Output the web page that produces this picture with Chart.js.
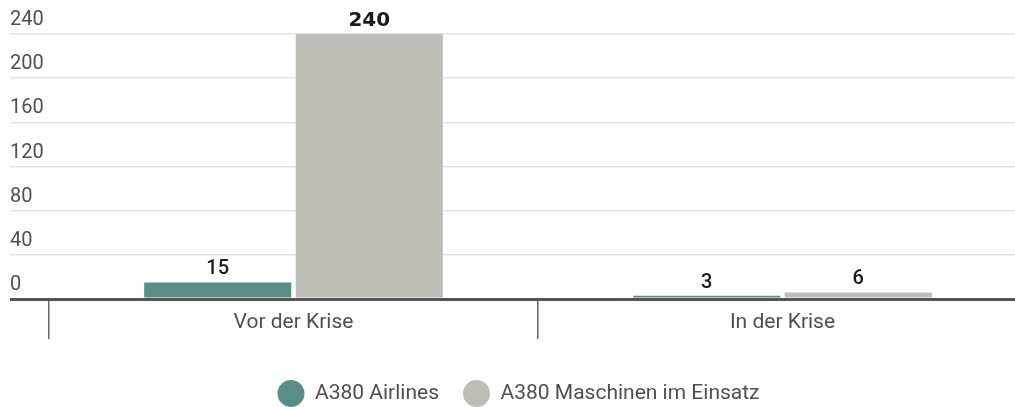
<!DOCTYPE html>
<html>
<head>
<meta charset="utf-8">
<script src="https://cdn.jsdelivr.net/npm/chart.js@4"></script>
<style>
    body { margin: 0; background: #fff; }
    #wrap { width: 1015px; height: 407px; overflow: hidden; }
    #wrap canvas { display: block; }
</style>
</head>
<body>
<div id="wrap"><canvas id="a380Chart" width="1032" height="407"></canvas></div>
<script>
// Data
const categories = ['Vor der Krise', 'In der Krise'];
const airlines = [15, 3];
const maschinen = [240, 6];
const seriesNames = ['A380 Airlines', 'A380 Maschinen im Einsatz'];
const yTicks = [0, 40, 80, 120, 160, 200, 240];

const teal = '#5c8d84';
const grey = '#bdbcb6';
const textGrey = '#4f4f4f';

// value labels over the bars
const valueLabels = {
    id: 'valueLabels',
    afterDatasetsDraw(chart) {
        const ctx = chart.ctx;
        ctx.save();
        ctx.fillStyle = '#1a1a1a';
        ctx.textAlign = 'center';
        ctx.textBaseline = 'alphabetic';
        chart.data.datasets.forEach((ds, i) => {
            const meta = chart.getDatasetMeta(i);
            meta.data.forEach((bar, j) => {
                const v = ds.data[j];
                // the big one is drawn wider in the original
                ctx.font = v >= 100 ? 'bold 20px "DejaVu Sans"' : '500 20px Roboto';
                ctx.fillText(String(v), bar.x, bar.y - 8);
            });
        });
        ctx.restore();
    }
};

new Chart(document.getElementById('a380Chart'), {
    type: 'bar',
    data: {
        labels: categories,
        datasets: [
            {
                label: seriesNames[0],
                data: airlines,
                backgroundColor: teal,
                borderWidth: 0,
                categoryPercentage: 0.62,
                barPercentage: 0.97
            },
            {
                label: seriesNames[1],
                data: maschinen,
                backgroundColor: grey,
                borderWidth: 0,
                categoryPercentage: 0.62,
                barPercentage: 0.97
            }
        ]
    },
    options: {
        responsive: false,
        animation: false,
        layout: { padding: { left: 10, right: 5, top: 34, bottom: 0 } },
        plugins: {
            tooltip: { enabled: false },
            legend: {
                position: 'bottom',
                maxHeight: 48,
                labels: {
                    usePointStyle: true,
                    pointStyle: 'circle',
                    pointStyleWidth: 27,
                    boxHeight: 19,
                    padding: 24,
                    color: textGrey,
                    font: { family: 'Roboto', size: 21 }
                }
            }
        },
        scales: {
            x: {
                border: { display: false },
                grid: {
                    offset: true,
                    drawOnChartArea: false,
                    tickLength: 40,
                    color: '#666',
                    lineWidth: 1.5
                },
                ticks: {
                    padding: -29,
                    color: textGrey,
                    font: { family: 'Roboto', size: 21 }
                },
                afterFit(scale) { scale.height = 60; }
            },
            y: {
                min: 0,
                max: 240,
                border: { display: false },
                afterBuildTicks(scale) { scale.ticks = yTicks.map(v => ({ value: v })); },
                afterFit(scale) { scale.width = 39; },
                grid: {
                    tickLength: 39,
                    color: (c) => c.tick && c.tick.value === 0 ? '#555' : '#e3e3e3',
                    lineWidth: (c) => c.tick && c.tick.value === 0 ? 3 : 1.5
                },
                ticks: {
                    crossAlign: 'far',
                    labelOffset: -14,
                    color: textGrey,
                    font: { family: 'Roboto', size: 20 }
                }
            }
        }
    },
    plugins: [valueLabels]
});
</script>
</body>
</html>
